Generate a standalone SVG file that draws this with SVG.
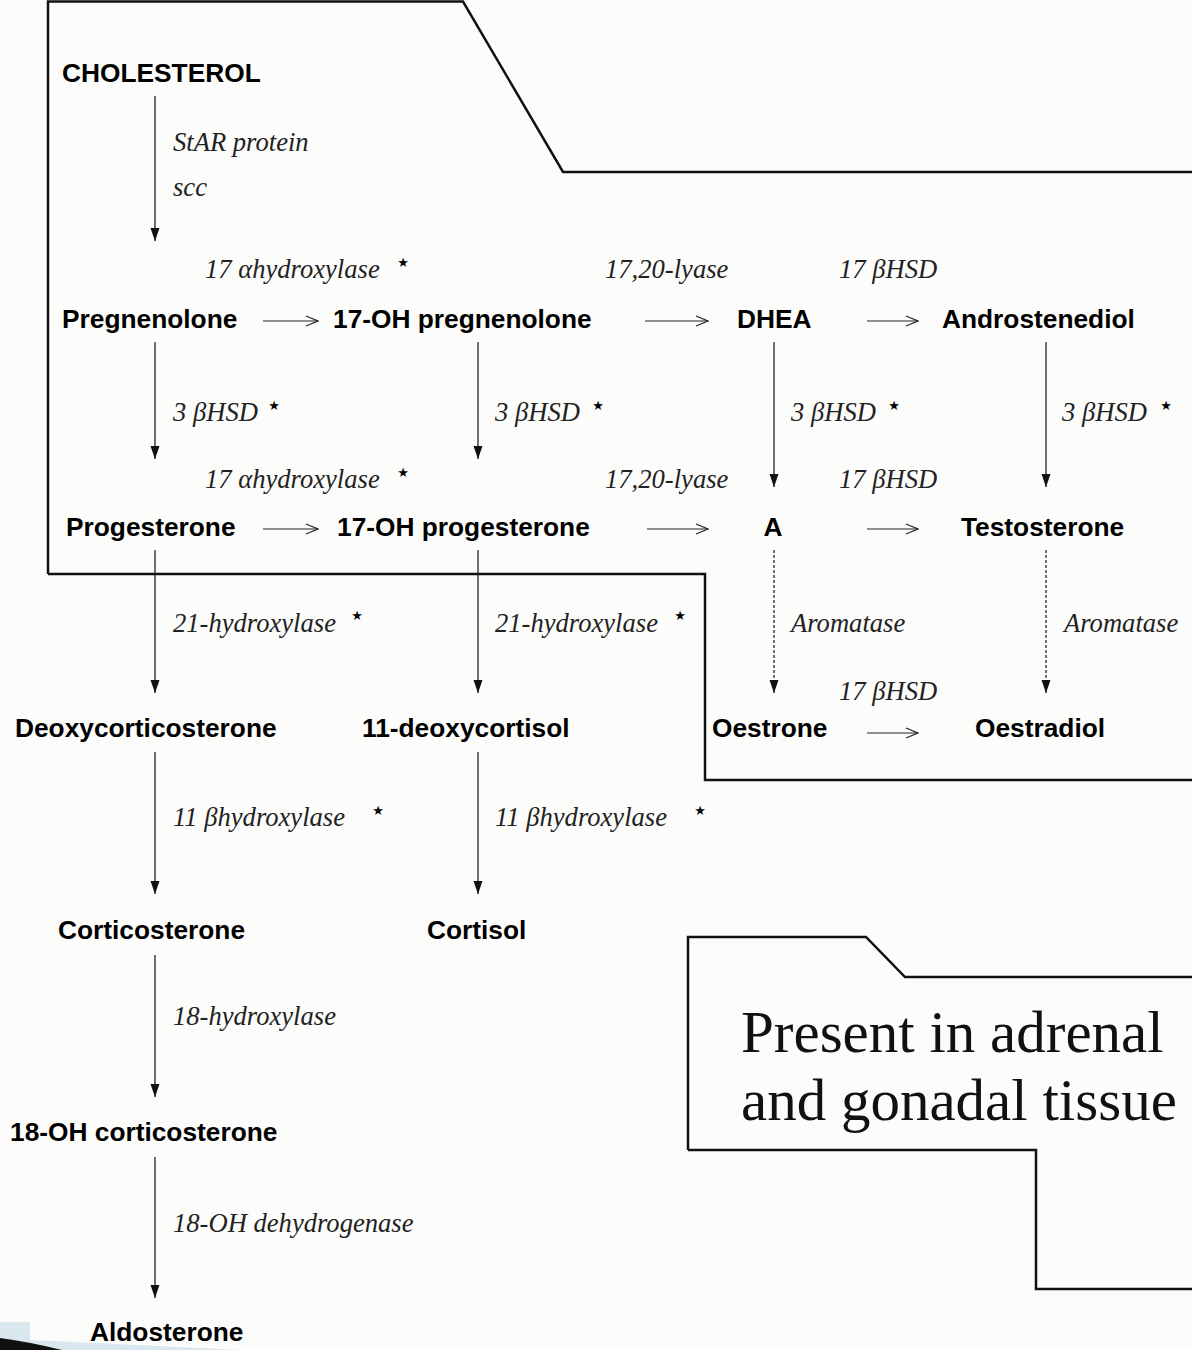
<svg xmlns="http://www.w3.org/2000/svg" width="1192" height="1350" viewBox="0 0 1192 1350">
<style>
.node{font-family:"Liberation Sans",Arial,sans-serif;font-weight:bold;font-size:26.3px;fill:#000}
.lbl{font-family:"Liberation Serif","Times New Roman",serif;font-style:italic;font-size:26.6px;fill:#222}
.star{font-family:"DejaVu Sans",sans-serif;font-size:13px;fill:#000;text-anchor:middle}
.box{fill:none;stroke:#111;stroke-width:2.5}
.v{stroke:#222;stroke-width:1.3;fill:none;marker-end:url(#tri)}
.d{stroke:#222;stroke-width:1.3;fill:none;stroke-dasharray:3 2;marker-end:url(#tri)}
.h{stroke:#222;stroke-width:1.2;fill:none;marker-end:url(#chev)}
.big{font-family:"Liberation Serif","Times New Roman",serif;font-size:59px;fill:#111}
</style>
<defs>
<marker id="tri" markerUnits="userSpaceOnUse" markerWidth="14" markerHeight="10" refX="13" refY="5" orient="auto" viewBox="0 0 14 10">
<path d="M0,0.5 L13,5 L0,9.5 Z" fill="#111"/>
</marker>
<marker id="chev" markerUnits="userSpaceOnUse" markerWidth="14" markerHeight="12" refX="13" refY="6" orient="auto" viewBox="0 0 14 12">
<path d="M1,1 L13,6 L1,11" fill="none" stroke="#222" stroke-width="1.2"/>
</marker>
</defs>
<rect width="1192" height="1350" fill="#fcfcfa"/>
<g id="region-adrenal-gonadal">
<path class="box" d="M48,574 L48,1.5 L463,1.5 L563,172 L1192,172"/>
<path class="box" d="M48,574 L705,574 L705,780 L1192,780"/>
</g>
<g id="legend">
<path class="box" d="M688,1150 L688,937 L866,937 L905,977 L1192,977"/>
<path class="box" d="M688,1150 L1036,1150 L1036,1289 L1192,1289"/>
<text class="big" x="741" y="1052">Present in adrenal</text>
<text class="big" x="741" y="1120">and gonadal tissue</text>
</g>
<g id="decor">
<path d="M0,1322 L30,1322 L30,1340 Q120,1344 240,1350 L0,1350 Z" fill="#d9e8ef"/>
<path d="M0,1338 Q30,1342 62,1350 L0,1350 Z" fill="#111"/>
</g>
<g id="connectors">
<line class="v" x1="155" y1="96" x2="155" y2="241"/>
<line class="h" x1="263" y1="321" x2="318" y2="321"/>
<line class="h" x1="645" y1="321" x2="708" y2="321"/>
<line class="h" x1="867" y1="321" x2="918" y2="321"/>
<line class="v" x1="155" y1="342" x2="155" y2="459"/>
<line class="v" x1="478" y1="342" x2="478" y2="459"/>
<line class="v" x1="774" y1="342" x2="774" y2="487"/>
<line class="v" x1="1046" y1="342" x2="1046" y2="487"/>
<line class="h" x1="263" y1="529" x2="318" y2="529"/>
<line class="h" x1="647" y1="529" x2="708" y2="529"/>
<line class="h" x1="867" y1="529" x2="918" y2="529"/>
<line class="v" x1="155" y1="550" x2="155" y2="693"/>
<line class="v" x1="478" y1="550" x2="478" y2="693"/>
<line class="d" x1="774" y1="550" x2="774" y2="693"/>
<line class="d" x1="1046" y1="550" x2="1046" y2="693"/>
<line class="h" x1="867" y1="733" x2="918" y2="733"/>
<line class="v" x1="155" y1="752" x2="155" y2="894"/>
<line class="v" x1="478" y1="752" x2="478" y2="894"/>
<line class="v" x1="155" y1="955" x2="155" y2="1097"/>
<line class="v" x1="155" y1="1157" x2="155" y2="1298"/>
</g>
<g id="enzyme-labels">
<text class="lbl" x="173" y="151">StAR protein</text>
<text class="lbl" x="173" y="196">scc</text>
<text class="lbl" x="205" y="278">17 αhydroxylase</text><text class="star" x="403" y="267">★</text>
<text class="lbl" x="605" y="278">17,20-lyase</text>
<text class="lbl" x="839" y="278">17 βHSD</text>
<text class="lbl" x="173" y="421">3 βHSD</text><text class="star" x="274" y="410">★</text>
<text class="lbl" x="495" y="421">3 βHSD</text><text class="star" x="598" y="410">★</text>
<text class="lbl" x="791" y="421">3 βHSD</text><text class="star" x="894" y="410">★</text>
<text class="lbl" x="1062" y="421">3 βHSD</text><text class="star" x="1166" y="410">★</text>
<text class="lbl" x="205" y="488">17 αhydroxylase</text><text class="star" x="403" y="477">★</text>
<text class="lbl" x="605" y="488">17,20-lyase</text>
<text class="lbl" x="839" y="488">17 βHSD</text>
<text class="lbl" x="173" y="632">21-hydroxylase</text><text class="star" x="357" y="620">★</text>
<text class="lbl" x="495" y="632">21-hydroxylase</text><text class="star" x="680" y="620">★</text>
<text class="lbl" x="791" y="632">Aromatase</text>
<text class="lbl" x="1064" y="632">Aromatase</text>
<text class="lbl" x="839" y="700">17 βHSD</text>
<text class="lbl" x="173" y="826">11  βhydroxylase</text><text class="star" x="378" y="815">★</text>
<text class="lbl" x="495" y="826">11  βhydroxylase</text><text class="star" x="700" y="815">★</text>
<text class="lbl" x="173" y="1025">18-hydroxylase</text>
<text class="lbl" x="173" y="1232">18-OH dehydrogenase</text>
</g>
<g id="n-cholesterol"><text class="node" x="62" y="82">CHOLESTEROL</text></g>
<g id="n-pregnenolone"><text class="node" x="62" y="328">Pregnenolone</text></g>
<g id="n-17oh-pregnenolone"><text class="node" x="333" y="328">17-OH pregnenolone</text></g>
<g id="n-dhea"><text class="node" x="737" y="328">DHEA</text></g>
<g id="n-androstenediol"><text class="node" x="942" y="328">Androstenediol</text></g>
<g id="n-progesterone"><text class="node" x="66" y="536">Progesterone</text></g>
<g id="n-17oh-progesterone"><text class="node" x="337" y="536">17-OH progesterone</text></g>
<g id="n-a"><text class="node" x="773" y="536" text-anchor="middle">A</text></g>
<g id="n-testosterone"><text class="node" x="961" y="536">Testosterone</text></g>
<g id="n-deoxycorticosterone"><text class="node" x="15" y="737">Deoxycorticosterone</text></g>
<g id="n-11-deoxycortisol"><text class="node" x="362" y="737">11-deoxycortisol</text></g>
<g id="n-oestrone"><text class="node" x="712" y="737">Oestrone</text></g>
<g id="n-oestradiol"><text class="node" x="975" y="737">Oestradiol</text></g>
<g id="n-corticosterone"><text class="node" x="58" y="939">Corticosterone</text></g>
<g id="n-cortisol"><text class="node" x="427" y="939">Cortisol</text></g>
<g id="n-18oh-corticosterone"><text class="node" x="10" y="1141">18-OH corticosterone</text></g>
<g id="n-aldosterone"><text class="node" x="90" y="1341">Aldosterone</text></g>
</svg>
